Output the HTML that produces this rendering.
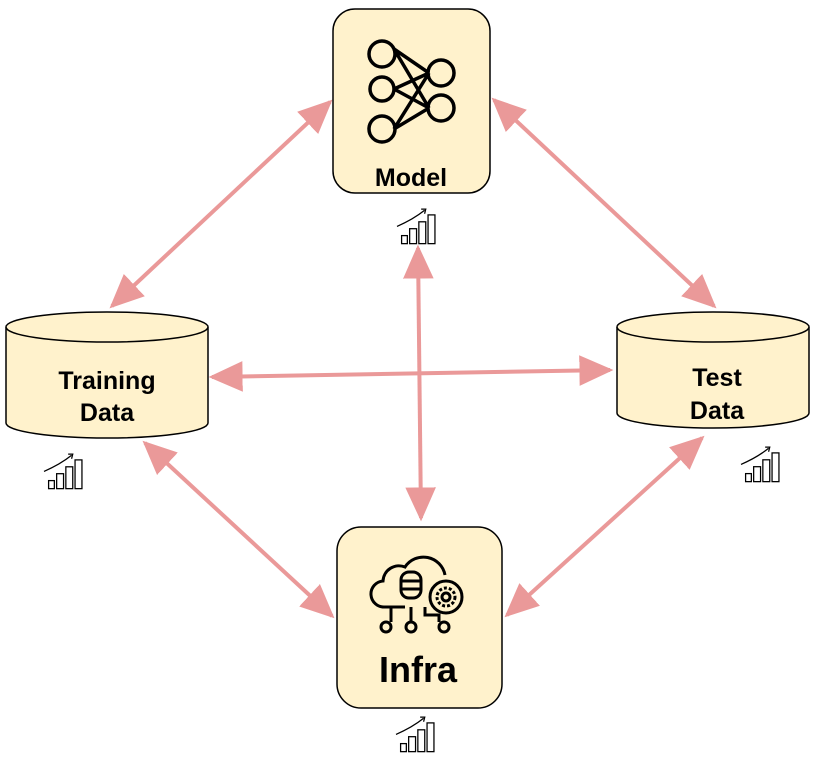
<!DOCTYPE html>
<html><head><style>body{margin:0;background:#fff}svg{display:block}</style></head><body>
<svg width="831" height="764" xmlns="http://www.w3.org/2000/svg" font-family="Liberation Sans, sans-serif">
<defs>
<marker id="h" viewBox="0 0 10 10" refX="9" refY="5" markerWidth="8.5" markerHeight="8.5" orient="auto-start-reverse"><path d="M0,0.5 L10,5 L0,9.5 z" fill="#ea9999"/></marker>
<g id="chart" fill="none" stroke="#000" stroke-width="1.1"><rect x="4" y="24" width="5" height="7"/><rect x="11" y="18" width="6" height="13"/><rect x="19" y="12" width="6" height="19"/><rect x="27" y="6" width="6" height="25"/><path d="M0,16 Q14,10 24,2"/><path d="M21,1 L25,1 L24,5" /></g>
</defs>
<g stroke="#ea9999" stroke-width="4" fill="none" marker-start="url(#h)" marker-end="url(#h)">
<line x1="330" y1="102" x2="112" y2="306"/>
<line x1="494" y1="100" x2="714" y2="306"/>
<line x1="212" y1="377" x2="610" y2="370"/>
<line x1="418" y1="248" x2="421" y2="518"/>
<line x1="145" y1="443" x2="332" y2="616"/>
<line x1="702" y1="438" x2="507" y2="615"/>
</g>
<rect x="333" y="9" width="157" height="184" rx="22" fill="#fff2cc" stroke="#000" stroke-width="1.5"/>
<g fill="none" stroke="#000" stroke-width="3.5">
<circle cx="382" cy="54" r="13"/><circle cx="382" cy="89" r="12"/><circle cx="382" cy="129" r="13"/>
<circle cx="441" cy="73" r="13"/><circle cx="441" cy="108" r="13"/>
<path d="M394,49 L429,108 M394,49 L429,73 M394,89 L429,73 M394,89 L429,108 M394,129 L429,73 M394,129 L429,108"/>
</g>
<text x="411" y="186" font-size="25" font-weight="bold" text-anchor="middle">Model</text>
<use href="#chart" transform="translate(397,208) scale(1.15)"/>
<path d="M6,327 v96 a101,15 0 0 0 202,0 v-96" fill="#fff2cc" stroke="#000" stroke-width="1.5"/>
<ellipse cx="107" cy="327" rx="101" ry="15" fill="#fff2cc" stroke="#000" stroke-width="1.5"/>
<text x="107" y="389" font-size="25" font-weight="bold" text-anchor="middle">Training</text>
<text x="107" y="421" font-size="25" font-weight="bold" text-anchor="middle">Data</text>
<use href="#chart" transform="translate(44,453) scale(1.15)"/>
<path d="M617,327 v86 a96,15 0 0 0 192,0 v-86" fill="#fff2cc" stroke="#000" stroke-width="1.5"/>
<ellipse cx="713" cy="327" rx="96" ry="15" fill="#fff2cc" stroke="#000" stroke-width="1.5"/>
<text x="717" y="386" font-size="25" font-weight="bold" text-anchor="middle">Test</text>
<text x="717" y="419" font-size="25" font-weight="bold" text-anchor="middle">Data</text>
<use href="#chart" transform="translate(741,446) scale(1.15)"/>
<rect x="337" y="527" width="165" height="181" rx="24" fill="#fff2cc" stroke="#000" stroke-width="1.5"/>
<g fill="none" stroke="#000" stroke-width="3">
<path d="M405,607 H385 a13,13 0 0 1 -2,-26 a16,16 0 0 1 22,-14 a22,22 0 0 1 40,8"/>
<rect x="401" y="572" width="20" height="26" rx="8"/><path d="M401,581 h20 M401,589 h20"/>
<circle cx="446" cy="597" r="16"/><circle cx="446" cy="597" r="9" stroke-dasharray="3 2"/><circle cx="446" cy="597" r="4"/>
<path d="M391,607 v15 M411,607 v15 M425,607 v8 h14 v7"/>
<circle cx="386" cy="627" r="5"/><circle cx="411" cy="627" r="5"/><circle cx="444" cy="627" r="5"/>
</g>
<text x="418" y="682" font-size="36" font-weight="bold" text-anchor="middle">Infra</text>
<use href="#chart" transform="translate(396,716) scale(1.15)"/>
</svg>
</body></html>
